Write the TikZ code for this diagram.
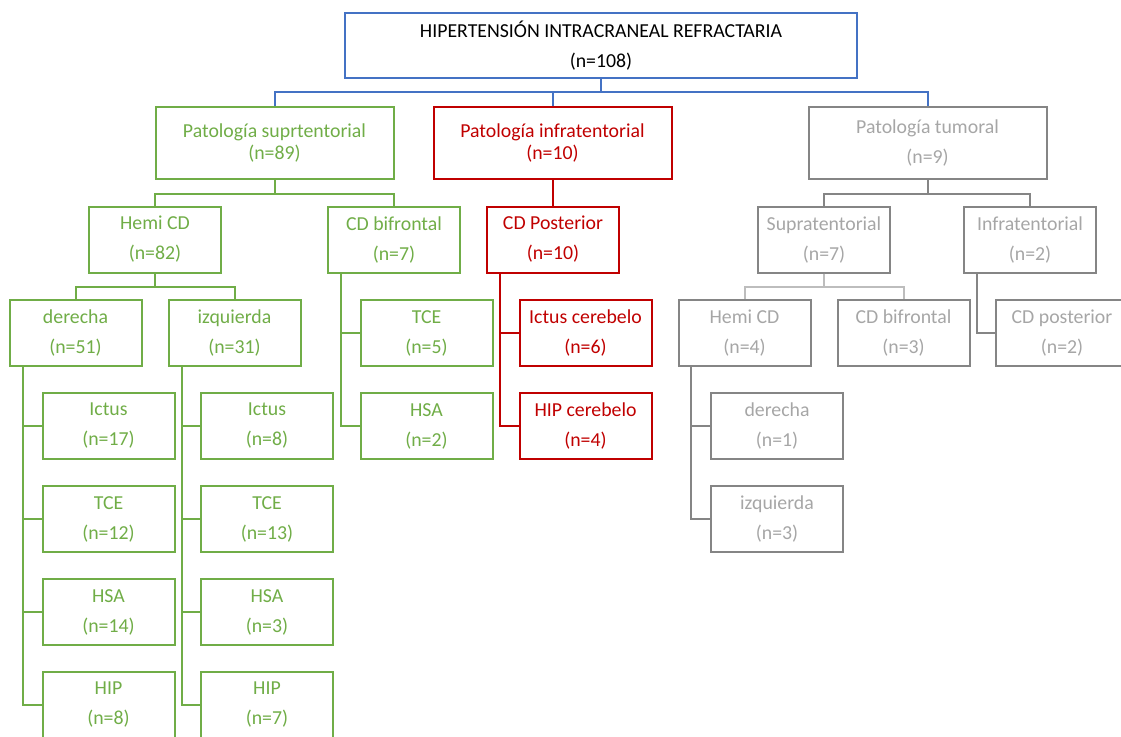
\documentclass[tikz,border=0pt]{standalone}
\usepackage{fontspec}
\setmainfont{Carlito}
\definecolor{cgreen}{HTML}{70AD47}
\definecolor{cred}{HTML}{C00000}
\definecolor{cblue}{HTML}{4472C4}
\definecolor{cgrayline}{HTML}{858585}
\definecolor{cgraytext}{HTML}{A6A6A6}
\definecolor{clightgray}{HTML}{BDBDBD}
\begin{document}
\begin{tikzpicture}[x=1pt,y=-1pt,line width=2pt,
  box/.style={draw,rectangle,inner sep=0pt,align=center,font=\fontsize{19.8}{30}\selectfont},
  small/.style={box,minimum width=132pt,minimum height=66pt},
  big/.style={box,minimum width=238pt,minimum height=72pt},
  tight/.style={font=\fontsize{19.8}{22}\selectfont},
  gbox/.style={draw=cgreen,text=cgreen},
  rbox/.style={draw=cred,text=cred},
  tbox/.style={draw=cgrayline,text=cgraytext},
  gline/.style={draw=cgreen},
  rline/.style={draw=cred},
  tline/.style={draw=cgrayline},
  lline/.style={draw=clightgray,line width=2pt},
  bline/.style={draw=cblue}]
\useasboundingbox (0,0) rectangle (1121,736);
\clip (0,0) rectangle (1121,736);
% top
\node[box,draw=cblue,text=black,minimum width=512pt,minimum height=65pt] (top) at (601,45.5) {HIPERTENSIÓN INTRACRANEAL REFRACTARIA\\(n=108)};
% level 1
\node[big,tight,gbox] (sup) at (274.5,142.5) {Patología suprtentorial\\(n=89)};
\node[big,tight,rbox] (inf) at (552.5,142.5) {Patología infratentorial\\(n=10)};
\node[big,tbox] (tum) at (927.5,142.5) {Patología tumoral\\(n=9)};
% green subtree
\node[small,gbox] (hemi) at (155,239.5) {Hemi CD\\(n=82)};
\node[small,gbox] (bif) at (394,239.5) {CD bifrontal\\(n=7)};
\node[small,gbox] (der) at (75.5,333) {derecha\\(n=51)};
\node[small,gbox] (izq) at (234.5,333) {izquierda\\(n=31)};
\node[small,gbox] (d1) at (108.5,426) {Ictus\\(n=17)};
\node[small,gbox] (d2) at (108.5,519) {TCE\\(n=12)};
\node[small,gbox] (d3) at (108.5,612) {HSA\\(n=14)};
\node[small,gbox] (d4) at (108.5,705) {HIP\\(n=8)};
\node[small,gbox] (i1) at (267,426) {Ictus\\(n=8)};
\node[small,gbox] (i2) at (267,519) {TCE\\(n=13)};
\node[small,gbox] (i3) at (267,612) {HSA\\(n=3)};
\node[small,gbox] (i4) at (267,705) {HIP\\(n=7)};
\node[small,gbox] (b1) at (426.5,333) {TCE\\(n=5)};
\node[small,gbox] (b2) at (426.5,426) {HSA\\(n=2)};
% red subtree
\node[small,rbox] (post) at (553,239.5) {CD Posterior\\(n=10)};
\node[small,rbox] (r1) at (585.5,333) {Ictus cerebelo\\(n=6)};
\node[small,rbox] (r2) at (585.5,426) {HIP cerebelo\\(n=4)};
% gray subtree
\node[small,tbox] (supt) at (824,239.5) {Supratentorial\\(n=7)};
\node[small,tbox] (inft) at (1030,239.5) {Infratentorial\\(n=2)};
\node[small,tbox] (th) at (744.5,333) {Hemi CD\\(n=4)};
\node[small,tbox] (tb) at (903.5,333) {CD bifrontal\\(n=3)};
\node[small,tbox] (tp) at (1062,333) {CD posterior\\(n=2)};
\node[small,tbox] (td) at (777,426) {derecha\\(n=1)};
\node[small,tbox] (ti) at (777,519) {izquierda\\(n=3)};
% blue connectors
\draw[bline] (top.south) -- ++(0,14);
\draw[bline] (sup.north) -- ++(0,-14) -| (tum.north);
\draw[bline] (inf.north) -- ++(0,-14);
% green connectors
\draw[gline] (sup.south) -- ++(0,14) -| (hemi.north);
\draw[gline] (sup.south) -- ++(0,14) -| (bif.north);
\draw[gline] (hemi.south) -- ++(0,13.5) -| (der.north);
\draw[gline] (hemi.south) -- ++(0,13.5) -| (izq.north);
\foreach \c in {d1,d2,d3,d4} \draw[gline] ([xshift=14pt]der.south west) |- (\c.west);
\foreach \c in {i1,i2,i3,i4} \draw[gline] ([xshift=14pt]izq.south west) |- (\c.west);
\foreach \c in {b1,b2} \draw[gline] ([xshift=13.5pt]bif.south west) |- (\c.west);
% red connectors
\draw[rline] (inf.south) -- (inf.south |- post.north);
\foreach \c in {r1,r2} \draw[rline] ([xshift=13.5pt]post.south west) |- (\c.west);
% gray connectors
\draw[tline] (tum.south) -- ++(0,14) -| (supt.north);
\draw[tline] (tum.south) -- ++(0,14) -| (inft.north);
\draw[lline] (supt.south) -- ++(0,13.5) -| (th.north);
\draw[lline] (supt.south) -- ++(0,13.5) -| (tb.north);
\draw[tline] ([xshift=13.5pt]inft.south west) |- (tp.west);
\foreach \c in {td,ti} \draw[tline] ([xshift=13.5pt]th.south west) |- (\c.west);
\end{tikzpicture}
\end{document}
